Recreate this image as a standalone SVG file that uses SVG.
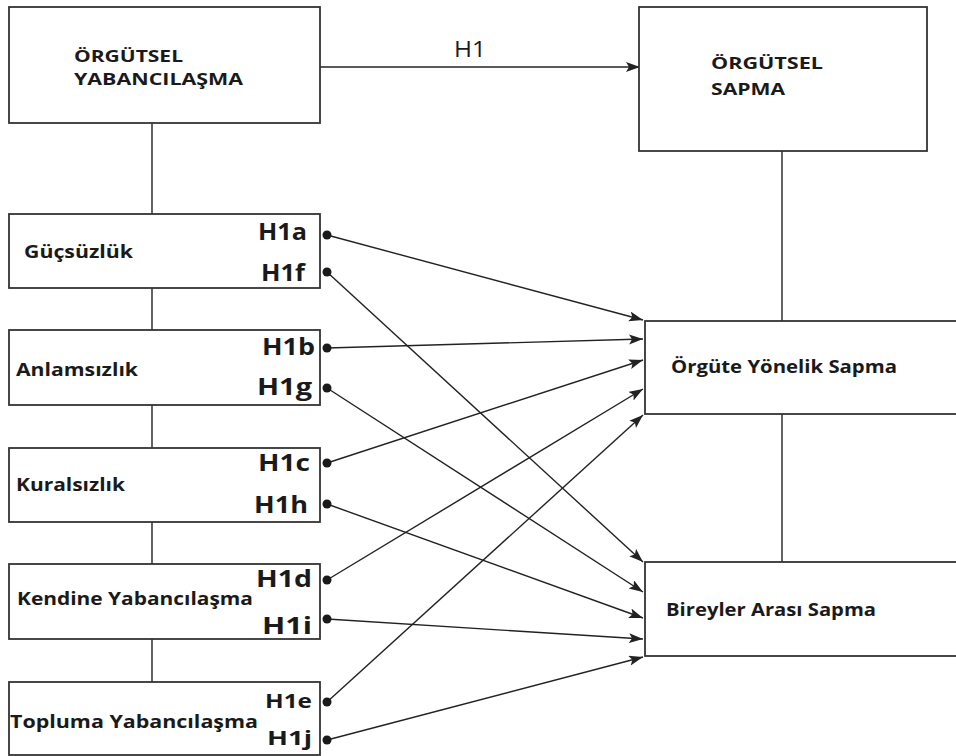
<svg xmlns="http://www.w3.org/2000/svg" width="956" height="756" viewBox="0 0 956 756">
<style>
.box{fill:#fff;stroke:#333;stroke-width:1.8}
.ln{stroke:#222;stroke-width:1.4;fill:none}
.ar{stroke:#222;stroke-width:1.4;fill:none;marker-end:url(#ah)}
.t{font-family:"Open Sans","Liberation Sans",sans-serif;font-weight:bold;fill:#1a1a1a}
.lb{font-size:17.5px}
.tb{font-size:16px}
.h{font-size:23px;text-anchor:end}
.hs{font-size:20px;text-anchor:end}
.dot{fill:#1a1a1a}
</style>
<defs>
<marker id="ah" markerUnits="userSpaceOnUse" markerWidth="16" markerHeight="12" refX="14" refY="5" orient="auto">
<path d="M0,0 L14,5 L0,10 L3,5 z" fill="#222"/>
</marker>
</defs>
<rect width="956" height="756" fill="#fff"/>
<g id="connectors">
<line class="ln" x1="152" y1="123" x2="152" y2="214"/>
<line class="ln" x1="152" y1="288" x2="152" y2="330"/>
<line class="ln" x1="152" y1="405" x2="152" y2="448"/>
<line class="ln" x1="152" y1="522" x2="152" y2="564"/>
<line class="ln" x1="152" y1="639" x2="152" y2="682"/>
<line class="ln" x1="782" y1="151" x2="782" y2="321"/>
<line class="ln" x1="782" y1="414" x2="782" y2="562"/>
<line class="ar" x1="320" y1="67" x2="640" y2="67"/>
<text class="t" x="454" y="57" style="font-weight:normal;font-size:22px" textLength="32" lengthAdjust="spacingAndGlyphs">H1</text>
<line class="ar" x1="327" y1="235" x2="643" y2="320"/>
<line class="ar" x1="327" y1="348" x2="643" y2="339"/>
<line class="ar" x1="327" y1="463" x2="643" y2="360"/>
<line class="ar" x1="327" y1="580" x2="643" y2="389"/>
<line class="ar" x1="327" y1="702" x2="643" y2="415"/>
<line class="ar" x1="327" y1="272" x2="643" y2="562"/>
<line class="ar" x1="327" y1="388" x2="643" y2="592"/>
<line class="ar" x1="327" y1="504" x2="643" y2="618"/>
<line class="ar" x1="327" y1="619" x2="643" y2="639"/>
<line class="ar" x1="327" y1="740" x2="643" y2="657"/>
<circle class="dot" cx="327" cy="235" r="4.5"/>
<circle class="dot" cx="327" cy="272" r="4.5"/>
<circle class="dot" cx="327" cy="348" r="4.5"/>
<circle class="dot" cx="327" cy="388" r="4.5"/>
<circle class="dot" cx="327" cy="463" r="4.5"/>
<circle class="dot" cx="327" cy="504" r="4.5"/>
<circle class="dot" cx="327" cy="580" r="4.5"/>
<circle class="dot" cx="327" cy="619" r="4.5"/>
<circle class="dot" cx="327" cy="702" r="4.5"/>
<circle class="dot" cx="327" cy="740" r="4.5"/>
</g>
<g id="orgutsel-yabancilasma">
<rect class="box" x="9" y="7" width="311" height="116"/>
<text class="t tb" x="74" y="62" textLength="109" lengthAdjust="spacingAndGlyphs">ÖRGÜTSEL</text>
<text class="t tb" x="74" y="85" textLength="169" lengthAdjust="spacingAndGlyphs">YABANCILAŞMA</text>
</g>
<g id="orgutsel-sapma">
<rect class="box" x="639" y="7" width="288" height="144"/>
<text class="t tb" x="711" y="69" textLength="112" lengthAdjust="spacingAndGlyphs">ÖRGÜTSEL</text>
<text class="t tb" x="711" y="95" textLength="74" lengthAdjust="spacingAndGlyphs">SAPMA</text>
</g>
<g id="gucsuzluk">
<rect class="box" x="9" y="214" width="311" height="74"/>
<text class="t lb" x="24" y="258" textLength="109" lengthAdjust="spacingAndGlyphs">Güçsüzlük</text>
<text class="t h" x="307" y="240" textLength="49" lengthAdjust="spacingAndGlyphs">H1a</text>
<text class="t h" x="305" y="281" textLength="44" lengthAdjust="spacingAndGlyphs">H1f</text>
</g>
<g id="anlamsizlik">
<rect class="box" x="9" y="330" width="311" height="75"/>
<text class="t lb" x="16" y="376" textLength="122" lengthAdjust="spacingAndGlyphs">Anlamsızlık</text>
<text class="t h" x="315" y="355" textLength="53" lengthAdjust="spacingAndGlyphs">H1b</text>
<text class="t h" x="312" y="395" textLength="55" lengthAdjust="spacingAndGlyphs">H1g</text>
</g>
<g id="kuralsizlik">
<rect class="box" x="9" y="448" width="311" height="74"/>
<text class="t lb" x="16" y="491" textLength="109" lengthAdjust="spacingAndGlyphs">Kuralsızlık</text>
<text class="t h" x="310" y="471" textLength="52" lengthAdjust="spacingAndGlyphs">H1c</text>
<text class="t h" x="308" y="513" textLength="54" lengthAdjust="spacingAndGlyphs">H1h</text>
</g>
<g id="kendine-yabancilasma">
<rect class="box" x="9" y="564" width="311" height="75"/>
<text class="t lb" x="17" y="605" textLength="236" lengthAdjust="spacingAndGlyphs">Kendine Yabancılaşma</text>
<text class="t h" x="312" y="587" textLength="56" lengthAdjust="spacingAndGlyphs">H1d</text>
<text class="t h" x="312" y="634" textLength="50" lengthAdjust="spacingAndGlyphs">H1i</text>
</g>
<g id="topluma-yabancilasma">
<rect class="box" x="9" y="682" width="311" height="73"/>
<text class="t lb" x="10" y="728" textLength="248" lengthAdjust="spacingAndGlyphs">Topluma Yabancılaşma</text>
<text class="t hs" x="312" y="708" textLength="47" lengthAdjust="spacingAndGlyphs">H1e</text>
<text class="t hs" x="312" y="745" textLength="45" lengthAdjust="spacingAndGlyphs">H1j</text>
</g>
<g id="orgute-yonelik-sapma">
<rect class="box" x="645" y="321" width="320" height="93"/>
<text class="t lb" x="671" y="373" textLength="226" lengthAdjust="spacingAndGlyphs">Örgüte Yönelik Sapma</text>
</g>
<g id="bireyler-arasi-sapma">
<rect class="box" x="645" y="562" width="320" height="94"/>
<text class="t lb" x="666" y="616" textLength="210" lengthAdjust="spacingAndGlyphs">Bireyler Arası Sapma</text>
</g>
</svg>
